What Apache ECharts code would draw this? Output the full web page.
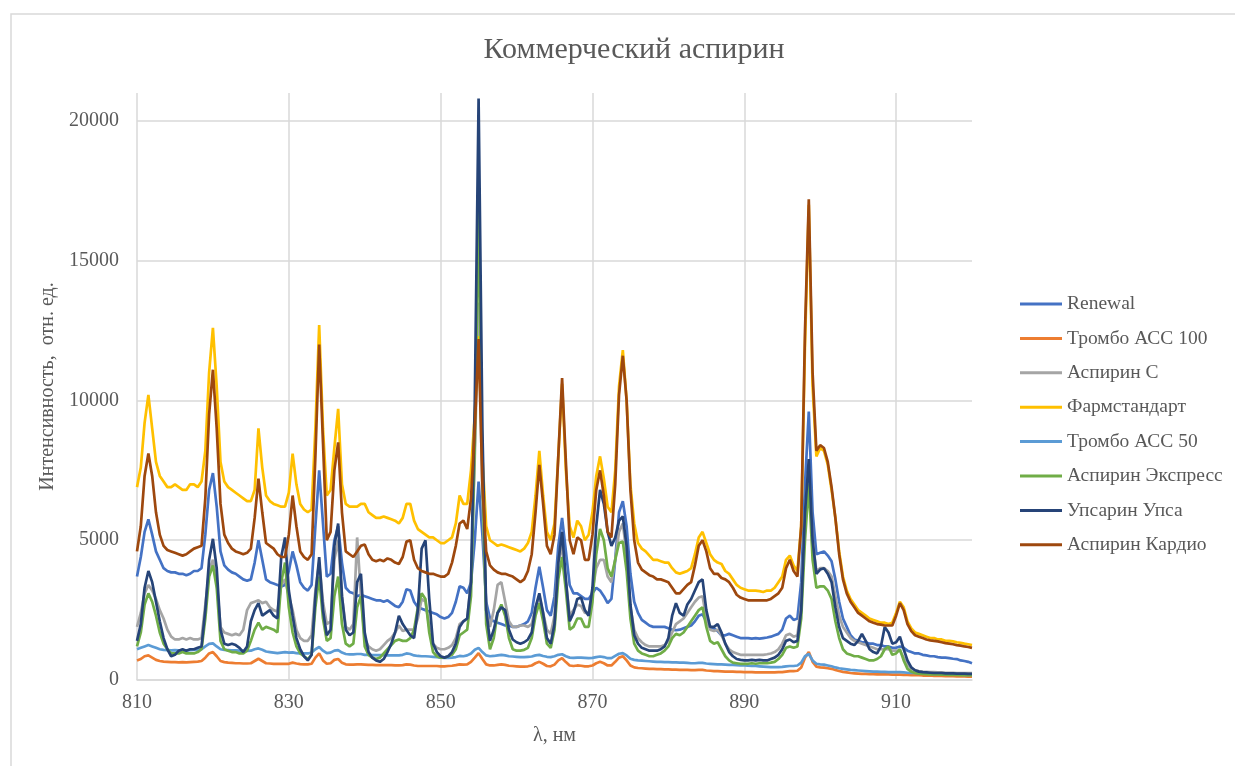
<!DOCTYPE html>
<html>
<head>
<meta charset="utf-8">
<title>Коммерческий аспирин</title>
<script src="https://cdn.jsdelivr.net/npm/echarts/dist/echarts.min.js"></script>
<style>
    html, body { margin: 0; padding: 0; background: #fff; }
    #mainChart { width: 1235px; height: 766px; }
</style>
</head>
<body>
<div id="mainChart"></div>
<script>
// wavelength grid, nm (step 0.5)
var wavelength = [
    810,810.5,811,811.5,812,812.5,813,813.5,814,814.5,815,815.5,816,816.5,817,817.5,818,818.5,819,819.5,
    820,820.5,821,821.5,822,822.5,823,823.5,824,824.5,825,825.5,826,826.5,827,827.5,828,828.5,829,829.5,
    830,830.5,831,831.5,832,832.5,833,833.5,834,834.5,835,835.5,836,836.5,837,837.5,838,838.5,839,839.5,
    840,840.5,841,841.5,842,842.5,843,843.5,844,844.5,845,845.5,846,846.5,847,847.5,848,848.5,849,849.5,
    850,850.5,851,851.5,852,852.5,853,853.5,854,854.5,855,855.5,856,856.5,857,857.5,858,858.5,859,859.5,
    860,860.5,861,861.5,862,862.5,863,863.5,864,864.5,865,865.5,866,866.5,867,867.5,868,868.5,869,869.5,
    870,870.5,871,871.5,872,872.5,873,873.5,874,874.5,875,875.5,876,876.5,877,877.5,878,878.5,879,879.5,
    880,880.5,881,881.5,882,882.5,883,883.5,884,884.5,885,885.5,886,886.5,887,887.5,888,888.5,889,889.5,
    890,890.5,891,891.5,892,892.5,893,893.5,894,894.5,895,895.5,896,896.5,897,897.5,898,898.5,899,899.5,
    900,900.5,901,901.5,902,902.5,903,903.5,904,904.5,905,905.5,906,906.5,907,907.5,908,908.5,909,909.5,
    910,910.5,911,911.5,912,912.5,913,913.5,914,914.5,915,915.5,916,916.5,917,917.5,918,918.5,919,919.5,
    920
];

var renewal = [
    3700,4400,5300,5750,5200,4600,4300,4000,3900,3850,3850,3800,3800,3750,3800,3900,3900,4000,5200,6800,
    7400,6200,4600,4100,3950,3850,3800,3700,3600,3550,3600,4200,5000,4300,3600,3500,3450,3400,3350,3400,
    3900,4600,4100,3500,3300,3200,3400,5500,7500,5600,3700,3800,5000,5500,4200,3300,3150,3100,3000,3050,
    3000,2950,2900,2850,2850,2800,2850,2750,2650,2600,2800,3250,3200,2800,2600,2550,2500,2450,2400,2350,
    2250,2200,2250,2400,2800,3350,3300,3100,3500,5000,7100,5200,2800,2200,2100,2050,2000,1950,1950,1900,
    1900,1950,2000,2100,2400,3300,4050,3300,2500,2300,3000,4800,5800,4600,3400,3100,3100,3000,2900,2900,
    3100,3300,3200,3000,2750,2900,4300,6000,6400,5500,3800,2800,2400,2150,2050,1950,1900,1900,1900,1900,
    1850,1800,1780,1800,1850,1900,1950,2100,2300,2350,2100,1900,1850,1750,1600,1600,1650,1600,1550,1500,
    1500,1500,1480,1500,1480,1500,1520,1550,1600,1650,1800,2200,2300,2150,2200,3500,7000,9600,6000,4500,
    4550,4600,4450,4250,3600,2800,2200,1900,1600,1450,1400,1350,1350,1300,1300,1250,1250,1200,1200,1150,
    1150,1200,1150,1050,1000,950,950,900,880,850,850,820,800,800,780,760,750,700,680,650,
    600
];

var trombo100 = [
    700,750,850,880,800,720,680,660,650,640,640,630,640,630,640,650,660,680,800,950,
    1000,850,680,640,620,610,600,600,590,590,600,680,760,680,600,590,580,580,580,580,
    580,620,590,570,560,560,580,800,950,700,580,600,720,750,620,560,550,550,560,560,
    550,540,540,530,530,530,530,530,520,520,530,560,550,520,500,500,500,500,500,500,
    490,490,500,510,530,560,550,560,650,800,960,750,560,520,520,540,560,540,510,500,
    490,480,480,490,520,600,650,580,500,490,550,700,780,640,520,500,520,510,490,490,
    520,600,650,600,520,520,650,800,850,700,520,450,430,420,410,400,400,390,390,380,
    380,370,370,360,360,360,350,350,360,360,340,330,320,320,310,300,300,300,290,290,
    280,280,280,270,270,270,270,270,270,280,280,300,320,320,330,450,800,1000,650,480,
    450,440,420,400,360,320,290,270,250,240,230,220,220,210,210,200,200,200,200,190,
    190,190,180,180,170,170,170,160,160,160,150,150,150,140,140,140,130,130,130,120,
    120
];

var aspirinC = [
    1900,2400,3100,3400,3200,2900,2500,2200,1800,1550,1450,1450,1500,1450,1500,1450,1450,1500,2700,3900,
    4300,3500,1900,1700,1650,1600,1650,1600,1800,2500,2750,2800,2850,2750,2800,2600,2500,2450,3400,3600,
    3000,2500,1800,1500,1400,1400,1600,3200,4200,2800,2000,2100,4300,5000,3000,1900,1800,2000,5100,3000,
    1500,1200,1100,1050,1100,1250,1400,1500,1700,1950,1750,1800,1800,1800,2200,2900,2800,1900,1300,1150,
    1100,1100,1150,1250,1500,2000,2100,2200,3500,8000,13500,6500,2500,1900,2500,3400,3500,2800,2100,1900,
    1900,1950,1950,1900,2000,2600,3000,2400,1800,1650,2300,4200,4800,3500,2300,2500,2700,2650,2400,2400,
    3200,4000,4300,4300,3700,3500,4300,5300,5600,4500,2600,1800,1500,1350,1250,1200,1200,1200,1200,1250,
    1400,1700,2000,2100,2200,2400,2600,2800,2950,3000,2200,1800,1750,1800,1600,1300,1100,1000,950,900,
    900,900,900,900,900,900,920,950,1000,1100,1300,1600,1650,1550,1600,2700,6000,7600,5000,3900,
    4000,4000,3900,3700,3000,2300,1900,1700,1500,1400,1350,1300,1250,1200,1150,1100,1100,1100,1100,1050,
    1050,1050,800,550,400,350,320,300,290,280,280,270,270,260,260,260,250,250,250,250,
    250
];

var farmstandart = [
    6900,7600,9200,10200,9000,7800,7300,7100,6900,6900,7000,6900,6800,6800,7000,7000,6900,7100,8200,11000,
    12600,10500,7800,7100,6900,6800,6700,6600,6500,6400,6400,6800,9000,7600,6600,6400,6300,6250,6200,6200,
    6700,8100,7000,6300,6100,6000,6100,9000,12700,9000,6600,6800,8300,9700,7000,6300,6200,6200,6200,6300,
    6300,6000,5900,5800,5800,5850,5800,5750,5700,5600,5800,6300,6300,5700,5400,5300,5200,5100,5100,5000,
    4900,4900,5000,5100,5600,6600,6300,6300,7500,9500,12300,8000,5500,5000,4900,4800,4850,4800,4750,4700,
    4650,4600,4700,4900,5300,6600,8200,6600,5300,5000,5600,8000,10600,7500,5500,5100,5700,5500,5000,5200,
    6000,7300,8000,7200,6200,6000,7500,10500,11800,10000,7000,5600,4900,4700,4600,4450,4300,4300,4250,4200,
    4200,4000,3850,3800,3850,3900,4000,4500,5100,5300,4900,4500,4300,4200,4150,3900,3800,3600,3400,3300,
    3250,3200,3200,3200,3180,3150,3200,3200,3300,3500,3700,4300,4450,4100,3900,5500,12000,17000,10500,8000,
    8300,8200,7700,6800,5800,4600,3700,3200,2900,2700,2500,2400,2300,2200,2150,2100,2050,2050,2000,2050,
    2400,2800,2600,2100,1850,1700,1650,1600,1550,1500,1500,1450,1450,1400,1400,1380,1350,1330,1300,1280,
    1250
];

var trombo50 = [
    1100,1150,1200,1250,1200,1150,1100,1080,1070,1060,1070,1060,1050,1060,1070,1080,1090,1100,1200,1290,
    1310,1200,1100,1080,1070,1060,1060,1050,1050,1040,1050,1100,1130,1080,1020,1000,980,960,980,1000,
    980,990,960,950,950,950,980,1100,1180,1050,960,980,1050,1070,980,930,920,920,930,930,
    900,900,890,890,890,890,880,880,880,880,900,950,930,880,860,850,850,840,830,820,
    800,790,790,800,820,860,850,880,950,1080,1150,1000,880,850,860,880,900,880,850,840,
    830,820,820,830,840,880,900,860,830,820,850,900,920,850,800,790,800,800,790,780,
    790,820,840,820,780,780,860,940,960,880,760,720,700,690,680,670,660,650,650,640,
    640,630,630,620,620,610,600,600,610,610,590,580,570,560,560,550,540,540,530,520,
    520,510,500,500,490,480,470,460,460,460,470,490,500,500,520,620,850,930,700,580,
    560,550,520,490,450,420,400,380,360,350,340,330,320,310,300,300,290,290,280,280,
    280,280,270,260,250,250,240,240,230,230,220,220,210,210,200,200,190,190,180,180,
    180
];

var aspirinExpress = [
    1200,1700,2700,3100,2800,2300,1700,1300,1100,950,950,950,1000,950,950,950,1000,1100,2200,3700,
    4100,3300,1400,1100,1050,1000,1000,950,950,1050,1400,1800,2050,1800,1900,1850,1800,1700,3500,4200,
    2600,1700,1200,950,850,750,900,2600,3700,2200,1400,1500,3000,3700,2000,1300,1200,1300,2600,3000,
    1200,900,800,750,800,950,1100,1250,1400,1450,1400,1400,1500,1800,2600,3100,2900,1700,1000,850,
    800,800,850,900,1100,1600,1700,1800,3000,8500,16900,7500,2000,1100,1500,2400,2700,2300,1500,1100,
    1050,1050,1080,1150,1500,2300,2750,2100,1300,1150,1800,3600,4400,3200,1800,1900,2200,2200,1900,1900,
    2800,4500,5400,5000,4000,3700,4300,4900,4950,3900,2200,1300,1050,950,900,850,850,900,950,1050,
    1200,1500,1650,1600,1700,1900,2100,2300,2500,2600,1900,1400,1300,1350,1100,850,700,620,600,580,
    580,580,600,580,600,600,600,620,650,750,900,1150,1200,1150,1200,2200,5000,7000,4300,3300,
    3350,3350,3200,2900,2100,1500,1100,950,900,850,850,800,750,700,700,750,850,1100,1200,900,
    950,1100,700,400,300,250,230,220,210,200,200,200,190,190,180,180,180,170,170,170,
    170
];

var upsarin = [
    1400,2000,3300,3900,3500,2800,2100,1500,1100,850,900,1050,1100,1050,1100,1100,1150,1200,2500,4300,
    5050,4000,1800,1300,1250,1300,1250,1150,1000,1200,2100,2500,2750,2300,2400,2500,2300,2200,4400,5100,
    3200,2300,1500,1100,850,700,900,3000,4400,2500,1600,1800,4800,5600,3000,1800,1600,1700,3500,3800,
    1700,1000,800,700,650,750,1000,1300,1700,2300,2000,1800,1600,1500,2500,4700,5000,2900,1300,1000,
    850,800,850,1000,1300,1900,2100,2200,3500,10000,20800,9000,2500,1400,1800,2400,2600,2500,1800,1450,
    1350,1300,1350,1450,1700,2600,3100,2400,1500,1300,2000,4200,5300,3600,2100,2400,2900,2950,2500,2300,
    3300,5500,6800,6300,5300,4800,5100,5700,5850,4800,2700,1600,1300,1150,1100,1050,1050,1050,1100,1200,
    1500,2300,2750,2400,2300,2700,2900,3200,3500,3600,2500,1900,1900,2000,1700,1300,1000,850,750,720,
    700,700,720,700,720,700,700,750,800,900,1100,1400,1450,1350,1400,2500,6000,7900,5000,3800,
    3950,4000,3800,3500,2600,1900,1500,1400,1300,1250,1400,1650,1400,1100,1000,950,1200,1900,1700,1300,
    1350,1550,1100,700,450,350,300,280,270,260,250,250,250,240,240,240,230,230,230,220,
    220
];

var aspirinCardio = [
    4600,5500,7300,8100,7300,6000,5200,4800,4650,4600,4550,4500,4450,4500,4600,4700,4750,4800,6500,9500,
    11100,9000,6300,5200,4900,4700,4600,4550,4500,4550,4700,5800,7200,6000,4900,4800,4700,4500,4400,4400,
    5200,6600,5500,4600,4400,4300,4500,8000,12000,8500,5000,5300,7500,8500,6000,4600,4500,4400,4600,4800,
    4850,4500,4300,4250,4300,4250,4350,4300,4200,4150,4400,4950,5000,4300,4000,3900,3850,3800,3800,3750,
    3700,3700,3800,4200,4800,5600,5700,5400,6500,9000,12200,7000,4600,4100,3950,3850,3800,3800,3750,3700,
    3600,3500,3600,3900,4500,6000,7700,6300,4800,4500,5200,8000,10800,7800,5000,4500,5100,5000,4300,4300,
    5200,6800,7500,6600,5300,5100,7000,10200,11600,10000,6800,5000,4200,3950,3850,3750,3700,3600,3600,3550,
    3500,3300,3100,3100,3250,3400,3500,4100,4800,5000,4600,4000,3800,3800,3650,3600,3500,3300,3050,2950,
    2900,2850,2850,2850,2850,2850,2850,2900,3000,3100,3300,4000,4300,3900,3700,5500,12500,17200,11000,8200,
    8400,8300,7800,6900,5800,4500,3600,3100,2800,2600,2400,2300,2200,2100,2050,2000,1980,1950,1950,1950,
    2300,2750,2500,2000,1750,1600,1550,1500,1450,1420,1400,1380,1350,1320,1300,1280,1250,1230,1200,1180,
    1150
];

var seriesNames = ['Renewal', 'Тромбо АСС 100', 'Аспирин С', 'Фармстандарт',
    'Тромбо АСС 50', 'Аспирин Экспресс', 'Упсарин Упса', 'Аспирин Кардио'];
var seriesColors = ['#4472C4', '#ED7D31', '#A5A5A5', '#FFC000',
    '#5B9BD5', '#70AD47', '#264478', '#9E480E'];
var seriesValues = [renewal, trombo100, aspirinC, farmstandart,
    trombo50, aspirinExpress, upsarin, aspirinCardio];

var myChart;
var textColor = '#595959';
var gridColor = '#d9d9d9';
var serifFont = '"Liberation Serif", "Times New Roman", serif';

window.onload = function () {
    myChart = echarts.init(document.getElementById('mainChart'), null, {renderer: 'canvas'});
    loadChart();
};

function toPairs(values) {
    var pairs = [];
    for (var i = 0; i < wavelength.length; i++) {
        pairs.push([wavelength[i], values[i]]);
    }
    return pairs;
}

function loadChart() {
    var series = [];
    for (var i = 0; i < seriesNames.length; i++) {
        series.push({
            name: seriesNames[i],
            type: 'line',
            data: toPairs(seriesValues[i]),
            showSymbol: false,
            symbol: 'none',
            smooth: false,
            lineStyle: {
                width: 2.7,
                color: seriesColors[i]
            },
            itemStyle: {color: seriesColors[i]}
        });
    }

    var option = {
        backgroundColor: '#fff',
        animation: false,
        title: {
            text: 'Коммерческий аспирин',
            left: 629,
            textAlign: 'center',
            top: 30,
            textStyle: {
                fontFamily: serifFont,
                fontSize: 30,
                fontWeight: 'normal',
                color: textColor
            }
        },
        graphic: [{
            // chart frame, only the left and top edges are in view
            type: 'rect',
            shape: {x: 11, y: 14, width: 1400, height: 900},
            style: {fill: 'none', stroke: gridColor, lineWidth: 1.5},
            silent: true
        }],
        legend: {
            orient: 'vertical',
            left: 1020,
            top: 294,
            padding: 0,
            icon: 'rect',
            itemWidth: 42,
            itemHeight: 3,
            itemGap: 14.4,
            data: seriesNames,
            textStyle: {
                fontFamily: serifFont,
                fontSize: 19.5,
                lineHeight: 20,
                color: textColor
            }
        },
        grid: {
            left: 137,
            right: 263,
            top: 93,
            bottom: 86,
            containLabel: false
        },
        xAxis: {
            type: 'value',
            min: 810,
            max: 920,
            interval: 20,
            name: 'λ, нм',
            nameLocation: 'middle',
            nameGap: 46,
            nameTextStyle: {fontFamily: serifFont, fontSize: 20, color: textColor},
            axisLine: {show: true, lineStyle: {color: gridColor, width: 1.5}},
            axisTick: {show: false},
            axisLabel: {
                fontFamily: serifFont,
                fontSize: 20,
                color: textColor,
                margin: 13,
                showMaxLabel: false
            },
            splitLine: {
                show: true,
                showMaxLine: false,
                lineStyle: {color: gridColor, width: 1.5}
            }
        },
        yAxis: {
            type: 'value',
            min: 0,
            max: 21000,
            interval: 5000,
            name: 'Интенсивность,  отн. ед.',
            nameLocation: 'middle',
            nameGap: 73,
            nameTextStyle: {fontFamily: serifFont, fontSize: 20, color: textColor},
            axisLine: {show: false},
            axisTick: {show: false},
            axisLabel: {
                fontFamily: serifFont,
                fontSize: 20,
                color: textColor,
                margin: 18,
                showMaxLabel: false,
                formatter: function (value) {
                    return String(value);
                }
            },
            splitLine: {
                show: true,
                showMaxLine: false,
                lineStyle: {color: gridColor, width: 1.5}
            }
        },
        series: series
    };
    myChart.setOption(option);
}
</script>
</body>
</html>
